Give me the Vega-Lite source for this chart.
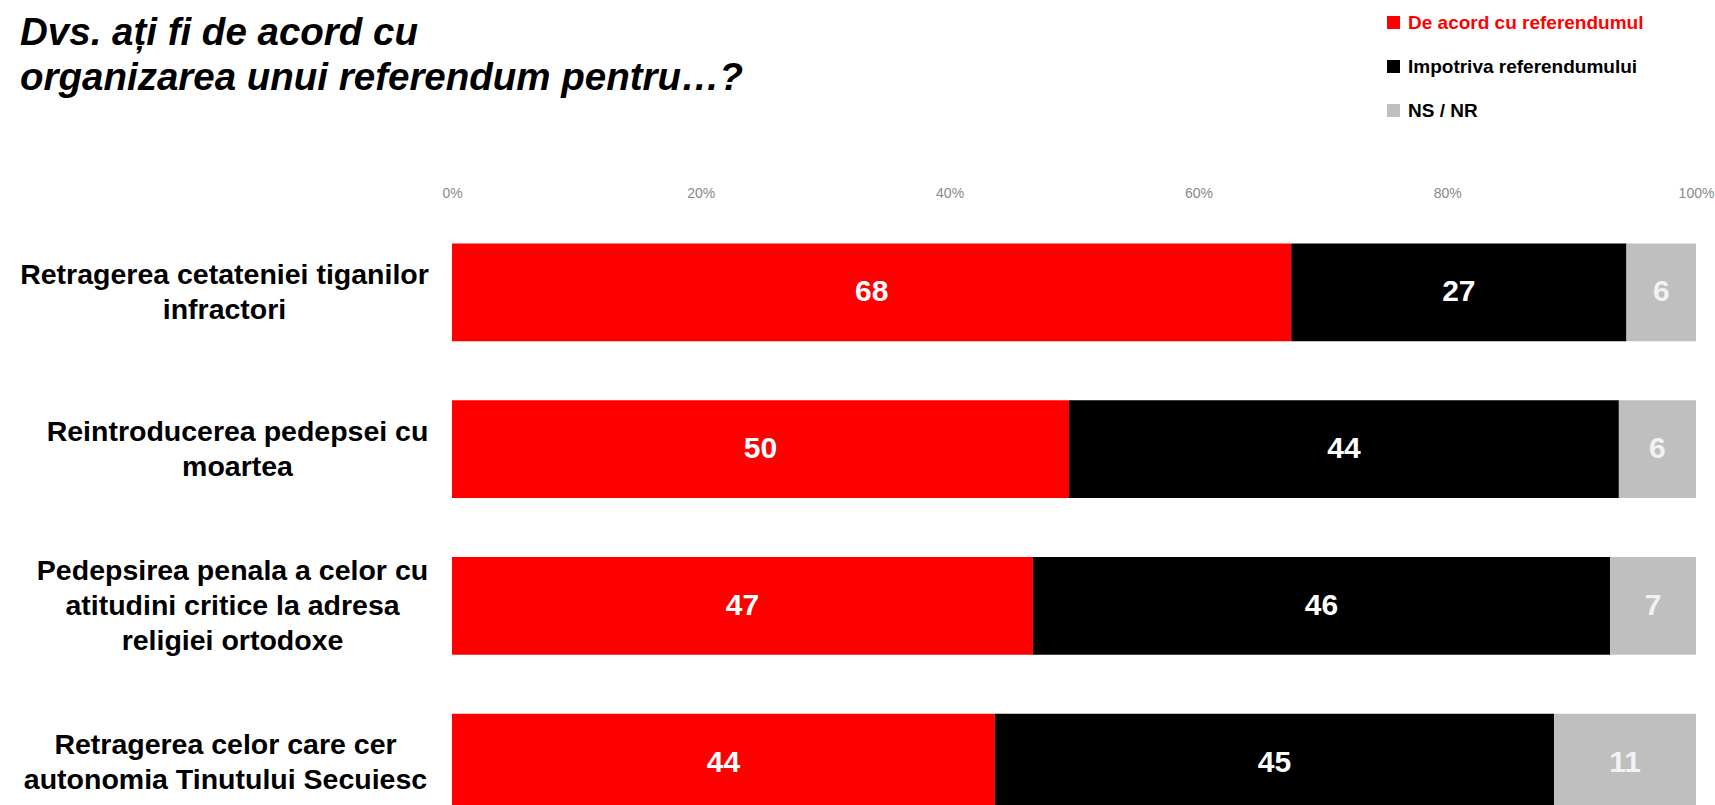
{
  "$schema": "https://vega.github.io/schema/vega-lite/v6.json",
  "width": 1244,
  "height": 591,
  "autosize": {"type": "none"},
  "padding": {"left": 452, "top": 214, "right": 19, "bottom": 0},
  "background": "white",
  "config": {"view": {"stroke": null}, "font": "Liberation Sans"},
  "title": {
    "text": ["Dvs. ați fi de acord cu", "organizarea unui referendum pentru…?"],
    "anchor": "start",
    "frame": "group",
    "dx": -432,
    "dy": 89,
    "font": "Liberation Sans",
    "fontSize": 38.5,
    "fontStyle": "italic",
    "fontWeight": "bold",
    "color": "#000000",
    "lineHeight": 45
  },
  "data": {
    "values": [
      {"item": "Retragerea cetateniei tiganilor\ninfractori", "answer": "De acord cu referendumul", "value": 67.6},
      {"item": "Retragerea cetateniei tiganilor\ninfractori", "answer": "Impotriva referendumului", "value": 27.0},
      {"item": "Retragerea cetateniei tiganilor\ninfractori", "answer": "NS / NR", "value": 5.6},
      {"item": "Reintroducerea pedepsei cu\nmoartea", "answer": "De acord cu referendumul", "value": 49.6},
      {"item": "Reintroducerea pedepsei cu\nmoartea", "answer": "Impotriva referendumului", "value": 44.2},
      {"item": "Reintroducerea pedepsei cu\nmoartea", "answer": "NS / NR", "value": 6.2},
      {"item": "Pedepsirea penala a celor cu\natitudini critice la adresa\nreligiei ortodoxe", "answer": "De acord cu referendumul", "value": 46.7},
      {"item": "Pedepsirea penala a celor cu\natitudini critice la adresa\nreligiei ortodoxe", "answer": "Impotriva referendumului", "value": 46.4},
      {"item": "Pedepsirea penala a celor cu\natitudini critice la adresa\nreligiei ortodoxe", "answer": "NS / NR", "value": 6.9},
      {"item": "Retragerea celor care cer\nautonomia Tinutului Secuiesc", "answer": "De acord cu referendumul", "value": 43.6},
      {"item": "Retragerea celor care cer\nautonomia Tinutului Secuiesc", "answer": "Impotriva referendumului", "value": 44.9},
      {"item": "Retragerea celor care cer\nautonomia Tinutului Secuiesc", "answer": "NS / NR", "value": 11.4}
    ]
  },
  "encoding": {
    "y": {
      "field": "item",
      "type": "nominal",
      "sort": null,
      "scale": {"range": [0, 627], "paddingInner": 0.375, "paddingOuter": 0.1875},
      "axis": {
        "title": null,
        "domain": false,
        "ticks": false,
        "tickSize": 0,
        "labelAlign": "center",
        "labelBaseline": "middle",
        "labelFont": "Liberation Sans",
        "labelFontSize": 28.5,
        "labelFontWeight": "bold",
        "labelColor": "#000000",
        "labelLineHeight": 35,
        "labelLimit": 0,
        "labelExpr": "split(datum.label, '\\n')",
        "labelOffset": {"expr": "indexof(datum.value, 'Pedepsirea') >= 0 ? -35 : -17.5"},
        "labelPadding": {"expr": "indexof(datum.value, 'Reintroducerea') >= 0 ? 215 : indexof(datum.value, 'Pedepsirea') >= 0 ? 220 : indexof(datum.value, 'Secuiesc') >= 0 ? 227 : 228"}
      }
    }
  },
  "layer": [
    {
      "mark": {"type": "bar"},
      "encoding": {
        "x": {
          "field": "value",
          "type": "quantitative",
          "stack": "normalize",
          "scale": {"domain": [0, 1]},
          "axis": {
            "orient": "top",
            "title": null,
            "domain": false,
            "ticks": false,
            "tickSize": 0,
            "grid": false,
            "values": [0, 0.2, 0.4, 0.6, 0.8, 1],
            "format": ".0%",
            "labelFlush": false,
            "labelOverlap": false,
            "labelFont": "Liberation Sans",
            "labelFontSize": 14,
            "labelColor": "#898989",
            "labelPadding": 14
          }
        },
        "color": {
          "field": "answer",
          "type": "nominal",
          "scale": {
            "domain": ["De acord cu referendumul", "Impotriva referendumului", "NS / NR"],
            "range": ["#ff0000", "#000000", "#bfbfbf"]
          },
          "legend": {
            "orient": "none",
            "legendX": 932,
            "legendY": -201,
            "title": null,
            "direction": "vertical",
            "symbolType": "square",
            "symbolSize": 169,
            "symbolStrokeWidth": 0,
            "symbolOpacity": 1,
            "labelFont": "Liberation Sans",
            "labelFontSize": 19,
            "labelFontWeight": "bold",
            "labelLimit": 0,
            "labelColor": {"expr": "datum.label == 'De acord cu referendumul' ? '#ff0000' : '#000000'"},
            "labelOffset": 5,
            "rowPadding": 24,
            "padding": 0
          }
        },
        "order": {"field": "answer"}
      }
    },
    {
      "mark": {"type": "text", "font": "Liberation Sans", "fontSize": 30, "fontWeight": "bold", "align": "center", "baseline": "middle"},
      "encoding": {
        "x": {"field": "value", "type": "quantitative", "stack": "normalize", "bandPosition": 0.5},
        "detail": {"field": "answer"},
        "order": {"field": "answer"},
        "text": {"field": "value", "type": "quantitative", "format": ".0f"},
        "color": {"condition": {"test": "datum.answer === 'NS / NR'", "value": "#f2f2f2"}, "value": "#ffffff"}
      }
    }
  ]
}
